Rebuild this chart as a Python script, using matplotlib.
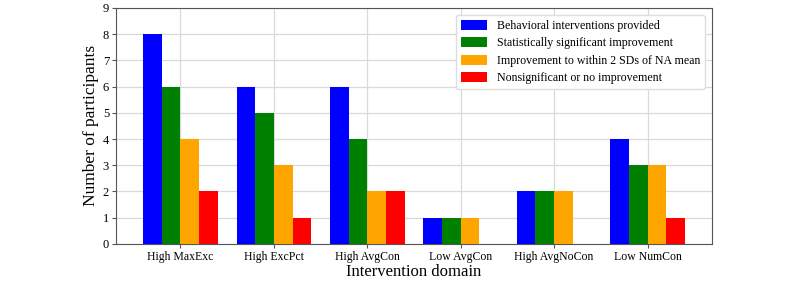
import matplotlib.pyplot as plt
import numpy as np

plt.rcParams['font.family'] = ['Liberation Serif', 'DejaVu Serif']

domains = ["High MaxExc", "High ExcPct", "High AvgCon", "Low AvgCon", "High AvgNoCon", "Low NumCon"]
provided = [8, 6, 6, 1, 2, 4]
significant = [6, 5, 4, 1, 2, 3]
within_2sd = [4, 3, 2, 1, 2, 3]
nonsignificant = [2, 1, 2, 0, 0, 1]

series = [
    (provided, "Behavioral interventions provided", "blue"),
    (significant, "Statistically significant improvement", "green"),
    (within_2sd, "Improvement to within 2 SDs of NA mean", "orange"),
    (nonsignificant, "Nonsignificant or no improvement", "red"),
]

fig, ax = plt.subplots(figsize=(8, 2.81), dpi=100)
fig.subplots_adjust(left=0.145, right=0.89, top=0.972, bottom=0.132)

x = np.arange(len(domains))
w = 0.2
for i, (vals, label, color) in enumerate(series):
    ax.bar(x + (i - 1.5) * w, vals, w, label=label, color=color, zorder=3)

ax.set_xticks(x)
ax.set_xticklabels(domains, fontsize=8.5)
ax.set_ylim(0, 9)
ax.set_yticks(range(10))
ax.tick_params(axis='y', labelsize=9)
ax.tick_params(axis='both', length=3, color="#555555", pad=2)
ax.grid(True, color="#d9d9d9", linewidth=0.9, zorder=0)
ax.set_axisbelow(True)
for s in ax.spines.values():
    s.set_color("#555555")

ax.set_xlabel("Intervention domain", fontsize=12, labelpad=1)
ax.set_ylabel("Number of participants", fontsize=12.5, labelpad=3)
ax.legend(loc="upper right", fontsize=8.6, framealpha=1, edgecolor="#dddddd",
          handlelength=2.2, handleheight=0.9, labelspacing=0.45, borderaxespad=0.6)

plt.savefig("out.png")
